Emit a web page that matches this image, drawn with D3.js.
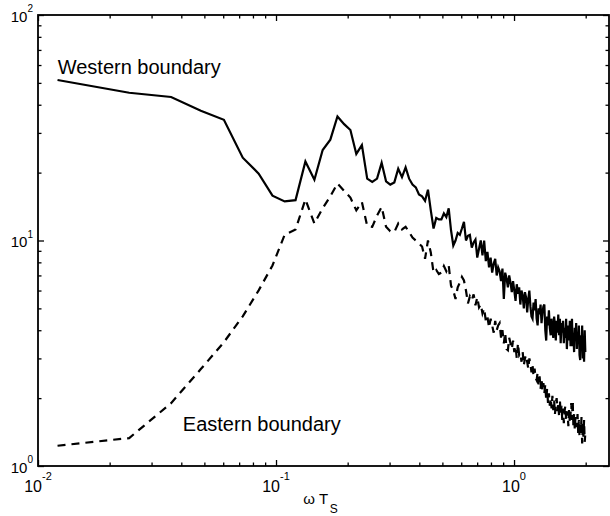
<!DOCTYPE html>
<html>
<head>
<meta charset="utf-8">
<script src="https://cdn.jsdelivr.net/npm/d3@7"></script>
<style>
  html, body { margin: 0; padding: 0; background: #fff; }
  svg { display: block; font-family: 'Liberation Sans', Arial, Helvetica, sans-serif; }
  .tick line { stroke: #000; stroke-width: 1.3; }
  .path-line { fill: none; stroke: #000; stroke-width: 2.2; }
  .path-east { stroke-dasharray: 8, 6; }
</style>
</head>
<body>
<div id="spectrum_chart"></div>
<script>
// Frequency spacing of the spectrum (omega * Ts per bin)
const dOmega = 0.01208

// Western boundary spectrum, one value per frequency bin
const western = [
  51.5, 45.2, 43.3, 37.6, 34.3, 23.3, 19.8, 15.8, 14.9, 15.1,
  22.4, 18.6, 25.2, 28.0, 35.5, 32.8, 30.9, 24.2, 26.5, 18.8,
  18.2, 18.8, 22.1, 18.3, 17.7, 18.1, 20.8, 19.1, 21.1, 18.8,
  17.7, 17.2, 16.0, 15.7, 15.0, 16.8, 13.6, 11.3, 12.6, 12.4,
  12.4, 13.2, 12.7, 13.9, 11.1, 9.5, 10.0, 10.8, 10.6, 11.3,
  12.1, 10.0, 10.5, 10.6, 9.3, 9.8, 10.1, 8.4, 9.2, 10.0,
  8.6, 10.0, 8.1, 8.9, 7.6, 8.4, 7.2, 7.9, 8.3, 7.0,
  7.6, 7.3, 6.6, 7.5, 5.5, 7.2, 6.8, 6.2, 7.0, 6.5,
  5.9, 6.6, 6.0, 5.4, 6.4, 5.8, 6.2, 5.2, 6.0, 5.7,
  5.0, 5.9, 5.6, 4.8, 5.5, 6.0, 5.1, 4.6, 4.5, 5.3,
  4.9, 5.5, 4.5, 4.2, 5.0, 4.7, 5.2, 4.3, 4.8, 5.1,
  5.2, 4.0, 3.6, 4.6, 4.2, 4.9, 4.1, 3.8, 4.5, 4.0,
  3.7, 4.6, 4.2, 3.6, 4.4, 3.9, 4.7, 3.8, 4.5, 3.5,
  4.3, 3.9, 4.4, 3.5, 4.1, 3.7, 4.5, 3.3, 3.9, 4.2,
  3.6, 4.4, 3.4, 3.8, 4.5, 3.4, 3.9, 3.2, 4.1, 3.7,
  4.3, 3.3, 3.9, 3.5, 4.2, 3.1, 2.95, 3.8, 3.3, 4.2,
  3.0, 3.6, 2.9, 4.0, 3.2
]

// Eastern boundary spectrum
const eastern = [
  1.23, 1.33, 1.90, 2.69, 3.54, 4.61, 6.01, 7.75, 10.6, 11.2,
  15.2, 11.9, 13.9, 15.7, 17.9, 16.6, 15.5, 13.6, 14.8, 11.6,
  11.5, 12.9, 14.1, 11.5, 11.0, 10.9, 11.9, 11.2, 11.5, 10.9,
  10.3, 10.0, 9.7, 9.4, 8.3, 10.0, 8.85, 7.2, 7.4, 7.1,
  7.2, 7.7, 7.3, 7.75, 6.3, 6.0, 5.5, 6.2, 6.5, 6.9,
  6.65, 6.0, 5.26, 5.65, 5.43, 5.77, 5.16, 5.6, 5.05, 5.21,
  4.75, 5.0, 4.4, 4.6, 4.1, 4.5, 4.2, 3.9, 4.4, 4.0,
  4.2, 4.3, 3.7, 4.0, 3.5, 3.9, 3.3, 3.26, 3.7, 3.5,
  3.3, 3.6, 3.2, 3.4, 3.0, 3.5, 3.1, 3.16, 2.9, 3.2,
  2.8, 3.0, 3.1, 2.9, 2.7, 3.0, 2.86, 2.6, 2.8, 2.5,
  2.7, 2.45, 2.4, 2.6, 2.3, 2.5, 2.2, 2.45, 2.15, 2.33,
  2.1, 2.3, 1.96, 2.2, 1.9, 2.1, 1.85, 2.0, 1.8, 2.05,
  1.77, 1.95, 1.7, 1.9, 2.0, 1.75, 1.9, 1.65, 1.96, 1.7,
  1.85, 1.6, 1.8, 1.55, 1.75, 1.85, 1.6, 1.6, 1.75, 1.5,
  1.8, 1.55, 1.7, 1.9, 1.6, 1.96, 1.5, 1.7, 1.45, 1.65,
  1.55, 1.49, 1.7, 1.4, 1.6, 1.35, 1.55, 1.4, 1.65, 1.26,
  1.5, 1.35, 1.6, 1.28, 1.40
]

// Axis limits and labelled decades
const xDomain = [0.01, 2.506]
const yDomain = [1, 100]
const xTickExponents = [-2, -1, 0]
const yTickExponents = [0, 1, 2]

// Curve annotations
const annotations = [
  { text: 'Western boundary', omega: 0.0121, value: 54.7 },
  { text: 'Eastern boundary', omega: 0.0406, value: 1.43 }
]

function drawChart() {
  // Vars for dimensions
  const width = 610
  const height = 516
  const margin = { top: 15, right: 1, bottom: 50, left: 38 }
  const innerWidth = width - margin.left - margin.right
  const innerHeight = height - margin.top - margin.bottom

  const svg = d3.select('#spectrum_chart')
    .append('svg')
    .attr('width', width)
    .attr('height', height)

  const g = svg.append('g')
    .attr('transform', `translate(${margin.left}, ${margin.top})`)

  // Create scales
  const xScale = d3.scaleLog().domain(xDomain).range([0, innerWidth])
  const yScale = d3.scaleLog().domain(yDomain).range([innerHeight, 0])

  const xMajor = xTickExponents.map(e => Math.pow(10, e))
  const yMajor = yTickExponents.map(e => Math.pow(10, e))
  const isMajor = v => Math.abs(Math.log10(v) - Math.round(Math.log10(v))) < 1e-9
  const xMinor = xScale.ticks().filter(v => !isMajor(v))
  const yMinor = yScale.ticks().filter(v => !isMajor(v))

  // Inward ticks on all four sides (MATLAB box style)
  const sides = [
    { axis: d3.axisBottom(xScale), t: `translate(0, ${innerHeight})`, major: xMajor, minor: xMinor },
    { axis: d3.axisTop(xScale), t: 'translate(0, 0)', major: xMajor, minor: xMinor },
    { axis: d3.axisLeft(yScale), t: 'translate(0, 0)', major: yMajor, minor: yMinor },
    { axis: d3.axisRight(yScale), t: `translate(${innerWidth}, 0)`, major: yMajor, minor: yMinor }
  ]
  sides.forEach(s => {
    g.append('g')
      .attr('transform', s.t)
      .call(s.axis.tickValues(s.minor).tickSize(-3.5).tickSizeOuter(0).tickFormat(''))
      .call(a => a.select('.domain').remove())
    g.append('g')
      .attr('transform', s.t)
      .call(s.axis.tickValues(s.major).tickSize(-6).tickSizeOuter(0).tickFormat(''))
      .call(a => a.select('.domain').remove())
  })

  // Bottom tick labels - powers of ten
  xTickExponents.forEach(e => {
    const t = g.append('text')
      .attr('x', xScale(Math.pow(10, e)))
      .attr('y', innerHeight + 25.5)
      .attr('text-anchor', 'middle')
      .attr('font-size', 16)
      .text('10')
    t.append('tspan')
      .attr('dy', -12)
      .attr('font-size', 11)
      .text(e < 0 ? '-' + Math.abs(e) : e)
  })

  // Left tick labels
  yTickExponents.forEach(e => {
    const t = g.append('text')
      .attr('x', -5)
      .attr('y', yScale(Math.pow(10, e)) + 6.5)
      .attr('text-anchor', 'end')
      .attr('font-size', 15)
      .text('10')
    t.append('tspan')
      .attr('dy', -9.5)
      .attr('font-size', 10)
      .text(e)
  })

  // X axis title: omega T_s
  const xt = g.append('text')
    .attr('x', innerWidth / 2 - 3)
    .attr('y', innerHeight + 37.5)
    .attr('text-anchor', 'middle')
    .attr('font-size', 15)
    .text('\u03c9 T')
  xt.append('tspan')
    .attr('dx', 1.5)
    .attr('dy', 9.5)
    .attr('font-size', 12)
    .text('S')

  // Spectrum lines
  const line = d3.line()
    .x((d, i) => xScale((i + 1) * dOmega))
    .y(d => yScale(d))

  g.append('path')
    .datum(western)
    .attr('class', 'path-line path-west')
    .attr('d', line)

  g.append('path')
    .datum(eastern)
    .attr('class', 'path-line path-east')
    .attr('d', line)

  // Curve labels
  g.selectAll('.annotation')
    .data(annotations)
    .enter()
    .append('text')
    .attr('class', 'annotation')
    .attr('x', d => xScale(d.omega))
    .attr('y', d => yScale(d.value))
    .attr('font-size', 20)
    .text(d => d.text)

  // Box
  g.append('rect')
    .attr('width', innerWidth)
    .attr('height', innerHeight)
    .attr('fill', 'none')
    .attr('stroke', '#000')
    .attr('stroke-width', 1.8)
}

drawChart()
</script>
</body>
</html>
